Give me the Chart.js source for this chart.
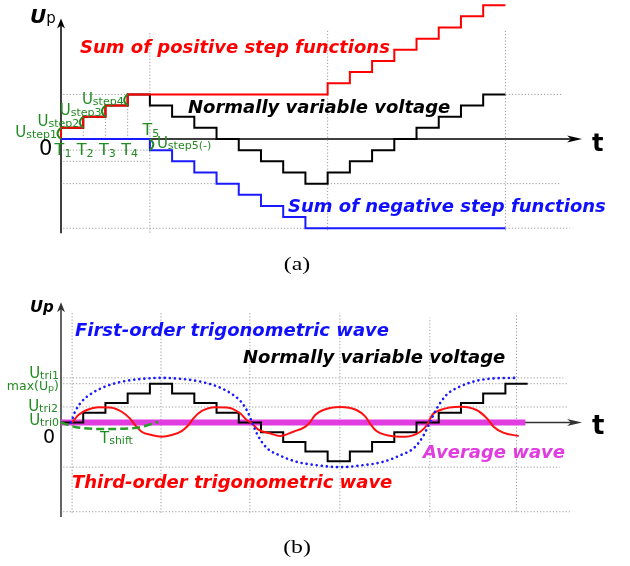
<!DOCTYPE html>
<html>
<head>
<meta charset="utf-8">
<script src="https://cdn.jsdelivr.net/npm/chart.js@4.4.1/dist/chart.umd.min.js"></script>
<style>
  body { margin: 0; background: #fff; }
  #wrap { position: relative; width: 630px; height: 566px; }
  canvas { position: absolute; left: 0; }
</style>
</head>
<body>
<div id="wrap">
  <canvas id="canvas_steps" width="630" height="280" style="top:0px"></canvas>
  <canvas id="canvas_trig" width="630" height="286" style="top:280px"></canvas>
</div>
<script>
// ---- (a) step functions, value at the end of each interval T ----
var stepTimes = [0, 1, 2, 3, 4, 5, 6, 7, 8, 9, 10, 11, 12, 13, 14, 15, 16, 17, 18, 19, 20];
var positiveSteps = [0, 1, 2, 3, 4, 4, 4, 4, 4, 4, 4, 4, 4, 5, 6, 7, 8, 9, 10, 11, 12];
var negativeSteps = [0, 0, 0, 0, 0, -1, -2, -3, -4, -5, -6, -7, -8, -8, -8, -8, -8, -8, -8, -8, -8];
var variableSteps = [0, 1, 2, 3, 4, 3, 2, 1, 0, -1, -2, -3, -4, -3, -2, -1, 0, 1, 2, 3, 4];

// dotted guides: [level, from, to] and [time, from, to]
var stepGuideH = [[4, 0.1, 4], [4, 19, 22.6], [-1, 0.1, 4], [-2, 0.1, 4], [-4, 0.1, 7], [-4, 12, 22.45], [-8, 0.1, 11], [-8, 20, 22.9]];
var stepGuideV = [[1, 0, 1], [2, 0, 2], [3, 0, 3], [4, -8.4, 9.6], [12, -8.2, 9.8], [20, -8.2, 9.8]];

// ---- (b) trigonometric approximation ----
var variableTimes = [0, 1, 2, 3, 4, 5, 6, 7, 8, 9, 10, 11, 12, 13, 14, 15, 16, 17, 18, 19, 20, 21];
var variableLevels = [0, 0, 1, 2, 3, 4, 3, 2, 1, 0, -1, -2, -3, -4, -3, -2, -1, 0, 1, 2, 3, 4];

var firstOrderT = [0.45, 0.63, 0.93, 1.38, 1.98, 2.73, 3.63, 4.5, 5.4, 6.3, 7.05, 7.65, 8.1, 8.4, 8.6, 8.85, 9.25, 9.85, 10.6, 11.5, 12.55, 13.6, 14.5, 15.25, 15.9, 16.3, 16.6, 16.9, 17.35, 17.95, 18.7, 19.5, 20.5];
var firstOrderV = [0, 1.1, 2.15, 3.0, 3.7, 4.2, 4.5, 4.6, 4.5, 4.2, 3.7, 3.0, 2.15, 1.1, 0, -1.3, -2.6, -3.4, -4.05, -4.4, -4.6, -4.4, -4.05, -3.4, -2.6, -1.4, 0, 1.4, 2.85, 3.7, 4.3, 4.55, 4.6];

var thirdOrderT = [0.5, 0.78, 1.16, 1.68, 2.28, 2.73, 3.1, 3.33, 3.63, 4.08, 4.53, 4.98, 5.43, 5.74, 5.96, 6.34, 6.94, 7.54, 8.06, 8.36, 8.58, 8.9, 9.4, 9.86, 10.46, 11.0, 11.2, 11.44, 11.8, 12.57, 13.3, 13.7, 13.9, 14.2, 14.8, 15.5, 16.17, 16.47, 16.7, 17.07, 17.97, 18.7, 19.17, 19.47, 19.9, 20.6];
var thirdOrderV = [0, 0.77, 1.29, 1.57, 1.53, 1.11, 0.43, -0.26, -0.95, -1.29, -1.46, -1.29, -0.88, -0.26, 0.43, 1.19, 1.57, 1.53, 0.95, 0.26, -0.08, -0.77, -1.11, -1.39, -0.95, -0.43, 0.02, 0.77, 1.29, 1.6, 1.29, 0.6, -0.08, -0.88, -1.36, -1.46, -0.95, -0.26, 0.77, 1.29, 1.63, 1.29, 0.43, -0.43, -1.05, -1.39];

var averageT = [0, 20.9];
var averageV = [0, 0];

var shiftT = [0, 0.63, 1.98, 3.33, 4.37];
var shiftV = [0, -0.46, -0.67, -0.57, 0.05];

var trigGuideH = [[4.6, 0.1, 22.6], [4, 0.1, 22.8], [1.6, 0.1, 22.8], [-4.6, 0.1, 22.45], [-9.2, 0.1, 22.9]];
var trigGuideV = [[0.5, -9.3, 11.3], [4.5, -9.3, 11.3], [8.5, -9.3, 11.3], [12.55, -9.2, 11.3], [16.6, -9.7, 10.8], [20.5, -9.2, 11.3]];

var GREEN = '#228b22';
var SANS = '"DejaVu Sans", sans-serif';

function pairs(xs, ys) {
  return xs.map(function (x, i) { return { x: x, y: ys[i] }; });
}

function guideSets(hList, vList) {
  var sets = [];
  hList.forEach(function (g) { sets.push(guide([{ x: g[1], y: g[0] }, { x: g[2], y: g[0] }])); });
  vList.forEach(function (g) { sets.push(guide([{ x: g[0], y: g[1] }, { x: g[0], y: g[2] }])); });
  return sets;
}

function guide(points) {
  return { data: points, borderColor: '#9a9a9a', borderWidth: 1, borderDash: [1.2, 2], pointRadius: 0, order: 10, clip: false };
}

function series(points, color, width, order, extra) {
  var ds = { data: points, borderColor: color, borderWidth: width, pointRadius: 0, order: order, clip: false, fill: false };
  for (var k in extra) ds[k] = extra[k];
  return ds;
}

function px(chart, t) { return chart.scales.x.getPixelForValue(t); }
function py(chart, v) { return chart.scales.y.getPixelForValue(v); }

// text made of pieces: [text, font, dy]
function richText(ctx, parts, x, y, align) {
  var total = 0;
  parts.forEach(function (p) { ctx.font = p[1]; total += ctx.measureText(p[0]).width; });
  var cx = align === 'right' ? x - total : (align === 'center' ? x - total / 2 : x);
  parts.forEach(function (p) {
    ctx.font = p[1];
    ctx.fillText(p[0], cx, y + (p[2] || 0));
    cx += ctx.measureText(p[0]).width;
  });
}

function subLabel(ctx, main, sub, x, y, align, mainSize) {
  richText(ctx, [[main, (mainSize || 15) + 'px ' + SANS, 0], [sub, '11px ' + SANS, 1]], x, y, align);
}

// serif panel caption, a little wider than the plain face
function caption(ctx, text, cx, y) {
  ctx.save();
  ctx.fillStyle = '#000';
  ctx.font = '19px "Liberation Serif", serif';
  ctx.textAlign = 'center';
  ctx.translate(cx, y);
  ctx.scale(1.25, 1);
  ctx.fillText(text, 0, 0);
  ctx.restore();
}

function axes(ctx, x0, y0, xEnd, yTop, yBottom, color) {
  ctx.save();
  ctx.strokeStyle = color;
  ctx.fillStyle = color;
  ctx.lineWidth = 1.5;
  ctx.beginPath();
  ctx.moveTo(x0, yBottom);
  ctx.lineTo(x0, yTop + 6);
  ctx.moveTo(x0, y0);
  ctx.lineTo(xEnd - 10, y0);
  ctx.stroke();
  ctx.beginPath();
  ctx.moveTo(x0, yTop);
  ctx.lineTo(x0 - 4, yTop + 10);
  ctx.lineTo(x0, yTop + 7);
  ctx.lineTo(x0 + 4, yTop + 10);
  ctx.closePath();
  ctx.moveTo(xEnd, y0);
  ctx.lineTo(xEnd - 15, y0 - 3.5);
  ctx.lineTo(xEnd - 11, y0);
  ctx.lineTo(xEnd - 15, y0 + 3.5);
  ctx.closePath();
  ctx.fill();
  ctx.restore();
}

function bracket(ctx, x, y1, y2, bulge) {
  ctx.beginPath();
  ctx.moveTo(x, y1);
  ctx.quadraticCurveTo(x + bulge * 2, (y1 + y2) / 2, x, y2);
  ctx.stroke();
}

function baseOptions(yMin, yMax, pad) {
  return {
    responsive: false,
    animation: false,
    events: [],
    layout: { padding: pad },
    plugins: { legend: { display: false }, tooltip: { enabled: false } },
    scales: {
      x: { type: 'linear', min: 0, max: 25, display: false },
      y: { type: 'linear', min: yMin, max: yMax, display: false }
    }
  };
}

var stepNotes = {
  id: 'stepNotes',
  beforeDatasetsDraw: function (chart) {
    axes(chart.ctx, px(chart, 0), py(chart, 0), px(chart, 23.45), py(chart, 10.8), py(chart, -8.45), '#000');
  },
  afterDatasetsDraw: function (chart) {
    var ctx = chart.ctx;
    ctx.save();
    ctx.textBaseline = 'alphabetic';
    ctx.strokeStyle = GREEN;
    ctx.lineWidth = 2;
    for (var k = 0; k < 4; k++) {
      bracket(ctx, px(chart, stepTimes[k]), py(chart, positiveSteps[k]), py(chart, positiveSteps[k + 1]), -3.5);
    }
    bracket(ctx, px(chart, stepTimes[4]), py(chart, negativeSteps[4]), py(chart, negativeSteps[5]), 3.5);

    ctx.fillStyle = GREEN;
    for (k = 0; k < 4; k++) {
      subLabel(ctx, 'U', 'step' + (k + 1), px(chart, stepTimes[k]) - 4, py(chart, positiveSteps[k]) - 2, 'right');
      richText(ctx, [['T', '16px ' + SANS, 0], [String(k + 1), '11px ' + SANS, 2]], px(chart, stepTimes[k]) + 2, py(chart, 0) + 16, 'center');
    }
    richText(ctx, [['T', '16px ' + SANS, 0], ['5', '11px ' + SANS, 2]], px(chart, stepTimes[4]) + 1, py(chart, 0) - 4, 'center');
    subLabel(ctx, 'U', 'step5(-)', px(chart, stepTimes[4]) + 7, py(chart, 0) + 9, 'left');

    ctx.fillStyle = '#000';
    ctx.font = '21px ' + SANS;
    ctx.fillText('0', 39, py(chart, 0) + 16);
    ctx.font = 'bold 24px ' + SANS;
    ctx.fillText('t', 592, py(chart, 0) + 12);
    richText(ctx, [['U', 'italic bold 20px ' + SANS, 0], ['p', '15px ' + SANS, 0]], 30, 23, 'left');

    ctx.font = 'italic bold 18px ' + SANS;
    ctx.fillStyle = '#ff0000';
    ctx.fillText('Sum of positive step functions', 80, 53);
    ctx.fillStyle = '#000';
    ctx.fillText('Normally variable voltage', 188, 113);
    ctx.fillStyle = '#1010ff';
    ctx.fillText('Sum of negative step functions', 288, 212);
    ctx.restore();

    caption(ctx, '(a)', 297, 270);
  }
};

var trigNotes = {
  id: 'trigNotes',
  beforeDatasetsDraw: function (chart) {
    axes(chart.ctx, px(chart, 0), py(chart, 0), px(chart, 23.45), py(chart, 12.4), py(chart, -9.75), '#333');
  },
  afterDatasetsDraw: function (chart) {
    var ctx = chart.ctx;
    ctx.save();
    ctx.textBaseline = 'alphabetic';
    ctx.fillStyle = GREEN;
    var xr = px(chart, 0) - 2;
    subLabel(ctx, 'U', 'tri1', xr, py(chart, 4.6), 'right');
    richText(ctx, [['max(U', '12.5px ' + SANS, 0], ['p', '9.5px ' + SANS, 1], [')', '12.5px ' + SANS, 0]], xr, py(chart, 4) + 6, 'right');
    subLabel(ctx, 'U', 'tri2', xr - 1, py(chart, 1.6) + 4, 'right');
    subLabel(ctx, 'U', 'tri0', xr, py(chart, 0) + 2.5, 'right');
    subLabel(ctx, 'T', 'shift', 100, py(chart, 0) + 20.5, 'left');

    ctx.fillStyle = '#000';
    ctx.font = '19px ' + SANS;
    ctx.fillText('0', 43, py(chart, 0) + 20.5);
    ctx.font = 'bold 26px ' + SANS;
    ctx.fillText('t', 592, py(chart, 0) + 11.5);
    richText(ctx, [['U', 'italic bold 16px ' + SANS, 0], ['p', 'italic bold 15px ' + SANS, 0]], 30, 32, 'left');

    ctx.font = 'italic bold 18px ' + SANS;
    ctx.fillStyle = '#1010ff';
    ctx.fillText('First-order trigonometric wave', 75, 56);
    ctx.fillStyle = '#000';
    ctx.fillText('Normally variable voltage', 243, 83);
    ctx.fillStyle = '#ff0000';
    ctx.fillText('Third-order trigonometric wave', 72, 208);
    ctx.fillStyle = '#e03ce0';
    ctx.fillText('Average wave', 423, 178);
    ctx.restore();

    caption(ctx, '(b)', 297, 273);
  }
};

function drawSteps() {
  var ctx = document.getElementById('canvas_steps');
  var datasets = guideSets(stepGuideH, stepGuideV).concat([
    series(pairs(stepTimes, variableSteps), '#000', 2, 4, { stepped: 'after' }),
    series(pairs(stepTimes, negativeSteps), '#1a1aff', 2, 3, { stepped: 'after' }),
    series(pairs(stepTimes, positiveSteps), '#ff0000', 2, 2, { stepped: 'after' })
  ]);
  new Chart(ctx, {
    type: 'line',
    data: { datasets: datasets },
    options: baseOptions(-8.4, 12.4, { left: 61, right: 13.5, top: 0.74, bottom: 47.3 }),
    plugins: [stepNotes]
  });
}

function drawTrig() {
  var ctx = document.getElementById('canvas_trig');
  var datasets = guideSets(trigGuideH, trigGuideV).concat([
    series(pairs(averageT, averageV), '#e03ce0', 6, 6, {}),
    series(pairs(variableTimes, variableLevels), '#000', 2, 5, { stepped: 'after' }),
    series(pairs(thirdOrderT, thirdOrderV), '#ff1010', 2, 4, { cubicInterpolationMode: 'monotone' }),
    series(pairs(firstOrderT, firstOrderV), '#1a1aff', 2.6, 3, { cubicInterpolationMode: 'monotone', borderDash: [0.1, 5], borderCapStyle: 'round' }),
    series(pairs(shiftT, shiftV), '#2a9d2a', 2.5, 2, { cubicInterpolationMode: 'monotone', borderDash: [8, 4] })
  ]);
  new Chart(ctx, {
    type: 'line',
    data: { datasets: datasets },
    options: baseOptions(-10, 14, { left: 61, right: 13.5, top: 6.7, bottom: 46.5 }),
    plugins: [trigNotes]
  });
}

drawSteps();
drawTrig();
</script>
</body>
</html>
